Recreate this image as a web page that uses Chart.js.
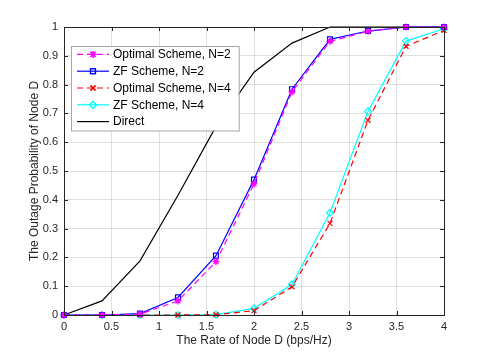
<!DOCTYPE html>
<html>
<head>
<meta charset="utf-8">
<script src="https://cdn.jsdelivr.net/npm/chart.js@4.4.1/dist/chart.umd.min.js"></script>
<style>
  html, body { margin: 0; padding: 0; background: #fff; }
  #wrap { width: 491px; height: 354px; }
</style>
</head>
<body>
<div id="wrap"><canvas id="outage"></canvas></div>
<script>
// x values: rate of node D (bps/Hz)
const rates = [0, 0.4, 0.8, 1.2, 1.6, 2.0, 2.4, 2.8, 3.2, 3.6, 4.0];

// outage probability
const optimalN2 = [0, 0, 0.003, 0.049, 0.185, 0.455, 0.775, 0.950, 0.985, 1.0, 1.0];
const zfN2      = [0, 0, 0.005, 0.061, 0.206, 0.470, 0.784, 0.957, 0.986, 1.0, 1.0];
const optimalN4 = [0, 0, 0, 0, 0.001, 0.015, 0.098, 0.318, 0.676, 0.933, 0.988];
const zfN4      = [0, 0, 0, 0, 0.001, 0.023, 0.106, 0.355, 0.707, 0.951, 0.994];
const direct    = [0, 0.049, 0.188, 0.416, 0.655, 0.843, 0.944, 1.0, 1.0, 1.0, 1.0];

const seriesLabels = ['Optimal Scheme, N=2', 'ZF Scheme, N=2', 'Optimal Scheme, N=4', 'ZF Scheme, N=4', 'Direct'];

const xTicks = [0, 0.5, 1, 1.5, 2, 2.5, 3, 3.5, 4];
const yTicks = [0, 0.1, 0.2, 0.3, 0.4, 0.5, 0.6, 0.7, 0.8, 0.9, 1];

const axisColor = '#262626';
const fontFamily = '"Liberation Sans", Arial, Helvetica, sans-serif';

function toPoints(values) {
  return values.map((v, i) => ({ x: rates[i], y: v }));
}

function series(label, values, color, style, dashed) {
  return {
    label: label,
    data: toPoints(values),
    borderColor: color,
    backgroundColor: 'rgba(0,0,0,0)',
    borderWidth: 1.2,
    borderDash: dashed ? [6, 4] : [],
    pointStyle: style || false,
    pointRadius: style ? 3.5 : 0,
    pointBorderColor: color,
    pointBorderWidth: 1.2,
    pointBackgroundColor: 'rgba(0,0,0,0)',
    tension: 0,
    fill: false,
    clip: false,
  };
}

// box around the axes plus MATLAB-style inward ticks
const axesBox = {
  id: 'axesBox',
  afterDatasetsDraw(chart) {
    const { ctx, chartArea: a, scales } = chart;
    ctx.save();
    ctx.strokeStyle = axisColor;
    ctx.lineWidth = 1;
    ctx.setLineDash([]);
    ctx.strokeRect(a.left + 0.5, a.top + 0.5, a.right - a.left, a.bottom - a.top);
    ctx.beginPath();
    xTicks.forEach(t => {
      const px = Math.round(scales.x.getPixelForValue(t)) + 0.5;
      ctx.moveTo(px, a.bottom); ctx.lineTo(px, a.bottom - 4);
      ctx.moveTo(px, a.top); ctx.lineTo(px, a.top + 4);
    });
    yTicks.forEach(t => {
      const py = Math.round(scales.y.getPixelForValue(t)) + 0.5;
      ctx.moveTo(a.left, py); ctx.lineTo(a.left + 4, py);
      ctx.moveTo(a.right, py); ctx.lineTo(a.right - 4, py);
    });
    ctx.stroke();
    ctx.restore();
  }
};

// boxed legend inside the axes, top left
const boxLegend = {
  id: 'boxLegend',
  afterDraw(chart) {
    const { ctx, chartArea: a } = chart;
    const x0 = a.left + 7, y0 = a.top + 19;
    const rowH = 16.8, sampleW = 32;
    ctx.save();
    ctx.font = '12px ' + fontFamily;
    const textW = Math.max(...chart.data.datasets.map(d => ctx.measureText(d.label).width));
    const w = 6 + sampleW + 4 + textW + 8;
    const h = rowH * chart.data.datasets.length + 0.5;
    ctx.fillStyle = '#fff';
    ctx.fillRect(x0, y0, w, h);
    ctx.strokeStyle = '#a6a6a6';
    ctx.lineWidth = 1;
    ctx.strokeRect(x0 + 0.5, y0 + 0.5, w, h);

    chart.data.datasets.forEach((d, i) => {
      const cy = y0 + 8.4 + i * rowH;
      const sx = x0 + 6;
      ctx.strokeStyle = d.borderColor;
      ctx.lineWidth = d.borderWidth;
      ctx.setLineDash(d.borderDash);
      ctx.beginPath();
      ctx.moveTo(sx, cy); ctx.lineTo(sx + sampleW, cy);
      ctx.stroke();
      ctx.setLineDash([]);
      if (d.pointStyle) {
        ctx.lineWidth = d.pointBorderWidth;
        ctx.fillStyle = 'rgba(0,0,0,0)';
        Chart.helpers.drawPoint(ctx, { pointStyle: d.pointStyle, radius: d.pointRadius, borderWidth: d.pointBorderWidth, rotation: 0 }, sx + sampleW / 2, cy);
        ctx.stroke();
      }
      ctx.fillStyle = '#000';
      ctx.textBaseline = 'middle';
      ctx.textAlign = 'left';
      ctx.fillText(d.label, sx + sampleW + 4, cy + 0.5);
    });
    ctx.restore();
  }
};

const ctx = document.getElementById('outage');
new Chart(ctx, {
  type: 'line',
  data: {
    datasets: [
      series(seriesLabels[0], optimalN2, '#ff00ff', 'star', true),
      series(seriesLabels[1], zfN2, '#0000ff', 'rect', false),
      series(seriesLabels[2], optimalN4, '#ff0000', 'crossRot', true),
      series(seriesLabels[3], zfN4, '#00ffff', 'rectRot', false),
      series(seriesLabels[4], direct, '#000000', null, false),
    ]
  },
  options: {
    responsive: true,
    maintainAspectRatio: false,
    animation: false,
    layout: { padding: { left: 0, top: 27, right: 47, bottom: 0 } },
    plugins: {
      legend: { display: false },
      tooltip: { enabled: false },
    },
    scales: {
      x: {
        type: 'linear',
        min: 0,
        max: 4,
        afterBuildTicks: s => { s.ticks = xTicks.map(v => ({ value: v })); },
        afterFit: s => { s.height = 39; },
        grid: { color: 'rgba(38,38,38,0.15)', drawTicks: false },
        border: { display: false },
        ticks: {
          color: axisColor,
          padding: 5,
          maxRotation: 0,
          font: { family: fontFamily, size: 11 },
          callback: v => String(v)
        },
        title: {
          display: true,
          text: 'The Rate of Node D (bps/Hz)',
          color: axisColor,
          font: { family: fontFamily, size: 12 },
          padding: { top: 0, bottom: 6 }
        }
      },
      y: {
        type: 'linear',
        min: 0,
        max: 1,
        afterBuildTicks: s => { s.ticks = yTicks.map(v => ({ value: v })); },
        afterFit: s => { s.width = 64; },
        grid: { color: 'rgba(38,38,38,0.15)', drawTicks: false },
        border: { display: false },
        ticks: {
          color: axisColor,
          padding: 6,
          font: { family: fontFamily, size: 11 },
          callback: v => String(v)
        },
        title: {
          display: true,
          text: 'The Outage Probability of Node D',
          color: axisColor,
          font: { family: fontFamily, size: 12 },
          padding: { top: 27, bottom: 0 }
        }
      }
    }
  },
  plugins: [axesBox, boxLegend]
});
</script>
</body>
</html>
